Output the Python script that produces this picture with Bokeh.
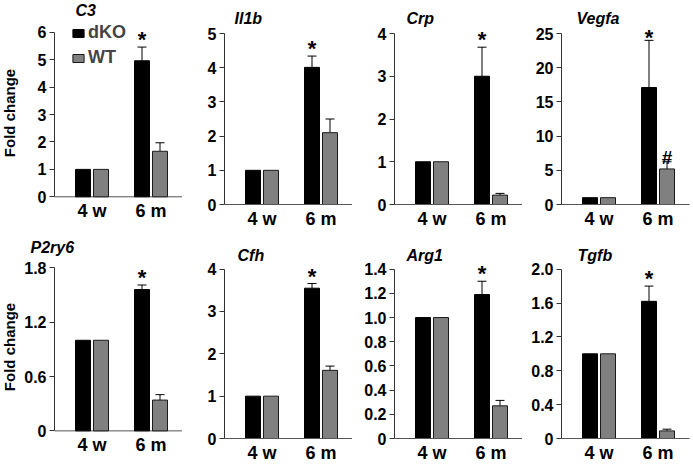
import math
from bokeh.plotting import figure
from bokeh.layouts import column, row
from bokeh.models import (ColumnDataSource, Range1d, FixedTicker, Whisker,
                          Legend, LegendItem, TeeHead, Label)
from bokeh.transform import dodge
from bokeh.core.properties import value
from bokeh.embed import file_html
from bokeh.resources import INLINE

# ---------------- data ----------------
ages = ["4 w", "6 m"]
genes = ["C3", "Il1b", "Crp", "Vegfa", "P2ry6", "Cfh", "Arg1", "Tgfb"]

dko_4w = [1.0, 1.0, 1.0, 1.0, 1.0, 1.0, 1.0, 1.0]
wt_4w = [1.0, 1.0, 1.0, 1.0, 1.0, 1.0, 1.0, 1.0]
dko_6m = [4.96, 4.01, 3.0, 17.1, 1.56, 3.55, 1.19, 1.62]
dko_6m_err = [0.5, 0.33, 0.68, 6.9, 0.05, 0.11, 0.11, 0.18]
wt_6m = [1.66, 2.1, 0.22, 5.2, 0.34, 1.61, 0.27, 0.09]
wt_6m_err = [0.31, 0.4, 0.04, 1.05, 0.06, 0.1, 0.045, 0.02]
dko_6m_mark = ["*", "*", "*", "*", "*", "*", "*", "*"]
wt_6m_mark = ["", "", "", "#", "", "", "", ""]
y_title = "Fold change"

y_max = [6, 5, 4, 25, 1.8, 4, 1.4, 2.0]
y_ticks = [
    [0, 1, 2, 3, 4, 5, 6],
    [0, 1, 2, 3, 4, 5],
    [0, 1, 2, 3, 4],
    [0, 5, 10, 15, 20, 25],
    [0, 0.6, 1.2, 1.8],
    [0, 1, 2, 3, 4],
    [0, 0.2, 0.4, 0.6, 0.8, 1.0, 1.2, 1.4],
    [0, 0.4, 0.8, 1.2, 1.6, 2.0],
]
y_tick_labels = [
    ["0", "1", "2", "3", "4", "5", "6"],
    ["0", "1", "2", "3", "4", "5"],
    ["0", "1", "2", "3", "4"],
    ["0", "5", "10", "15", "20", "25"],
    ["0", "0.6", "1.2", "1.8"],
    ["0", "1", "2", "3", "4"],
    ["0", "0.2", "0.4", "0.6", "0.8", "1.0", "1.2", "1.4"],
    ["0", "0.4", "0.8", "1.2", "1.6", "2.0"],
]

# ---------------- styling / layout ----------------
FONT = "Liberation Sans"
AXIS_GREY = "#555555"
title_shift_px = [21, 10, 12, 15, -24, 13, 12, 16]
FRAME_W = 128
LEFT_BORDER = [54, 42, 42, 39]   # space left of each y axis
GROUP_PX = 59.0          # px between group centres
FIRST_GROUP_PX = 37.5    # px from axis to first group centre
BAR_W = 15.0 / GROUP_PX
OFF = 9.0 / GROUP_PX
axis_x = -FIRST_GROUP_PX / GROUP_PX
x_end = (FRAME_W - FIRST_GROUP_PX) / GROUP_PX
EXT_B = 8                # first column: frame reaches this far below zero
XLAB_GAP = 4             # gap between the zero line and the x labels

# per row: (headroom above the top tick, plot height, bottom border, title baseline above plot)
ROW_GEOM = {True: (33, 171, 28, 15), False: (37, 171, 25, 12)}


def make_panel(i):
    col = i % 4
    top_row = i < 4
    head, plot_h, b_bot, title_up = ROW_GEOM[top_row]
    right = 1 if col == 3 else 0
    if col == 0:
        # first column: y axis drawn inside the frame so the frame can hold the
        # tick labels, the y title and the gene name that starts left of the axis
        inner_l, inner_b = LEFT_BORDER[0], EXT_B
        left = 0
    else:
        inner_l, inner_b = 0, 0
        left = LEFT_BORDER[col]
    bottom = b_bot - inner_b
    frame_h = head + plot_h + inner_b
    per_px = y_max[i] / plot_h
    x_start = axis_x - inner_l / GROUP_PX
    p = figure(width=left + inner_l + FRAME_W + right, height=frame_h + bottom,
               x_range=Range1d(x_start, x_end),
               y_range=Range1d(-inner_b * per_px, (head + plot_h) * per_px),
               output_backend="svg", toolbar_location=None, title=None,
               min_border_left=left, min_border_right=right,
               min_border_top=0, min_border_bottom=bottom)
    p.outline_line_color = None
    p.xgrid.visible = False
    p.ygrid.visible = False

    # gene name above the plotted area
    p.add_layout(Label(x=inner_l + title_shift_px[i], y=inner_b + plot_h + title_up,
                       x_units="screen", y_units="screen", text=genes[i],
                       text_font=FONT, text_font_style="bold italic",
                       text_font_size="16px", text_color="black",
                       text_align="left", text_baseline="alphabetic"))

    src = ColumnDataSource(dict(x=list(range(len(ages))),
                                dko=[dko_4w[i], dko_6m[i]],
                                wt=[wt_4w[i], wt_6m[i]]))
    r1 = p.vbar(x=dodge("x", -OFF), top="dko", width=BAR_W, source=src,
                fill_color="black", line_color="black", line_width=1)
    r2 = p.vbar(x=dodge("x", OFF), top="wt", width=BAR_W, source=src,
                fill_color="#808080", line_color="#1a1a1a", line_width=1)

    esrc = ColumnDataSource(dict(
        x=[1, 1], off=[-OFF, OFF],
        lower=[dko_6m[i], wt_6m[i]],
        upper=[dko_6m[i] + dko_6m_err[i], wt_6m[i] + wt_6m_err[i]],
        mark=[dko_6m_mark[i], wt_6m_mark[i]],
    ))
    esrc.data["bx"] = [a + b for a, b in zip(esrc.data["x"], esrc.data["off"])]
    p.add_layout(Whisker(base="bx", lower="lower", upper="upper", source=esrc,
                         lower_head=None,
                         upper_head=TeeHead(size=9, line_color="black", line_width=1),
                         line_color="black", line_width=1))

    # significance marks
    headroom = [(y_max[i] - u) / y_max[i] * plot_h for u in esrc.data["upper"]]
    d = min(10.5, headroom[0] - 1.0)
    star_src = ColumnDataSource(dict(x=[esrc.data["bx"][0]], y=[esrc.data["upper"][0]],
                                     t=[esrc.data["mark"][0]],
                                     yo=[-(d - 3.0)]))
    p.text(x="x", y="y", text="t", source=star_src, y_offset="yo",
           text_align="center", text_baseline="alphabetic",
           text_font=value(FONT), text_font_style="bold", text_font_size="22px",
           text_color="black")
    hash_src = ColumnDataSource(dict(x=[esrc.data["bx"][1]], y=[esrc.data["upper"][1]],
                                     t=[esrc.data["mark"][1]]))
    p.text(x="x", y="y", text="t", source=hash_src, y_offset=-4,
           text_align="center", text_baseline="alphabetic",
           text_font=value(FONT), text_font_style="bold", text_font_size="19px",
           text_color="black")

    # axes
    yax = p.yaxis[0]
    yax.bounds = (0, y_max[i])
    if col == 0:
        yax.fixed_location = axis_x
    yax.ticker = FixedTicker(ticks=y_ticks[i])
    yax.major_label_overrides = dict(zip(y_ticks[i], y_tick_labels[i]))
    yax.minor_tick_line_color = None
    yax.major_tick_in = 0
    yax.major_tick_out = 5
    yax.major_label_standoff = 3
    yax.axis_line_color = "#333333"
    yax.major_tick_line_color = "#333333"
    yax.major_label_text_font = FONT
    yax.major_label_text_font_style = "bold"
    yax.major_label_text_font_size = "16px"
    yax.major_label_text_color = "black"
    if col == 0:
        p.add_layout(Label(x=9, y=inner_b + plot_h / 2 - 2,
                           x_units="screen", y_units="screen",
                           text=y_title, angle=math.pi / 2,
                           text_font=FONT, text_font_style="bold",
                           text_font_size="15px", text_color="black",
                           text_align="center", text_baseline="middle"))

    xax = p.xaxis[0]
    xax.bounds = (axis_x, x_end)
    xax.ticker = FixedTicker(ticks=[0, 1])
    xax.major_label_overrides = {0: ages[0], 1: ages[1]}
    xax.major_tick_line_color = None
    xax.minor_tick_line_color = None
    xax.major_tick_out = 0
    xax.major_tick_in = 0
    xax.major_label_standoff = XLAB_GAP - inner_b
    xax.axis_line_color = AXIS_GREY if col != 0 else None
    xax.major_label_text_font = FONT
    xax.major_label_text_font_style = "bold"
    xax.major_label_text_font_size = "18px"
    xax.major_label_text_color = "black"
    if col == 0:
        # zero line from the y axis to the right end of the frame
        base_src = ColumnDataSource(dict(b=[0.0], lo=[axis_x], hi=[x_end]))
        p.add_layout(Whisker(dimension="width", base="b", lower="lo", upper="hi",
                             source=base_src, lower_head=None, upper_head=None,
                             line_color=AXIS_GREY, line_width=1))

    if i == 0:
        leg = Legend(items=[LegendItem(label="dKO", renderers=[r1]),
                            LegendItem(label="WT", renderers=[r2])],
                     location=(inner_l + 17, inner_b + plot_h - 43),
                     glyph_width=14, glyph_height=10, label_height=20,
                     label_standoff=3, spacing=4, padding=0, margin=0,
                     border_line_color=None, background_fill_alpha=0,
                     label_text_font=FONT, label_text_font_style="bold",
                     label_text_font_size="18px")
        p.add_layout(leg)
    return p


panels = [make_panel(i) for i in range(8)]
layout = column(row(*panels[:4]), row(*panels[4:]))

open("out.html", "w").write(file_html(layout, INLINE))
